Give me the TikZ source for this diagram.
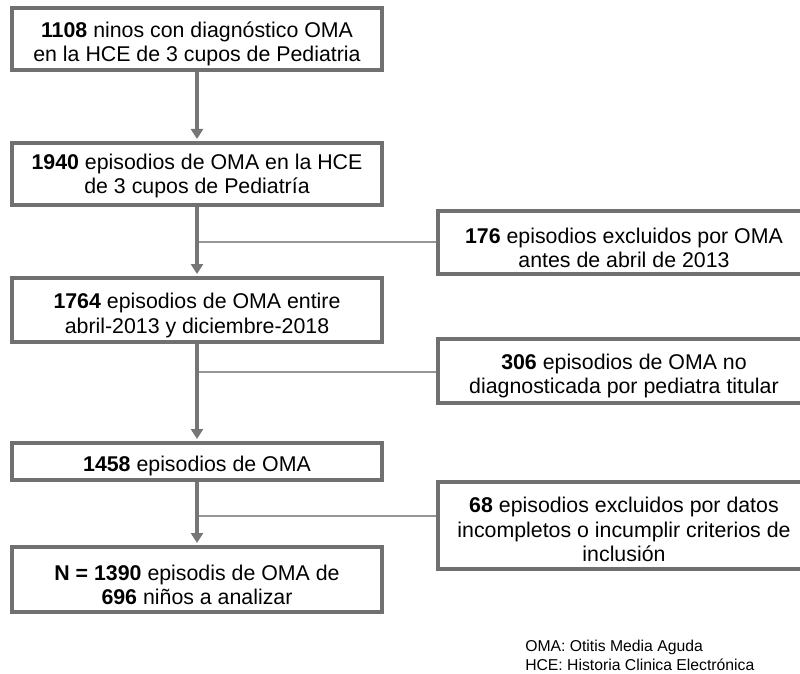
\documentclass[tikz,border=0pt]{standalone}
\usepackage{fontspec}
\setmainfont{Liberation Sans}
\usetikzlibrary{arrows.meta}
\definecolor{boxgray}{RGB}{112,112,112}
\definecolor{arrgray}{RGB}{118,118,118}
\definecolor{thingray}{RGB}{150,150,150}
\tikzset{
  flowbox/.style={draw=boxgray, line width=3pt, fill=white, inner sep=0pt},
  boxtext/.style={align=center, inner sep=0pt, text=black,
    font=\fontsize{16pt}{18.5pt}\selectfont},
  mainarrow/.style={draw=arrgray, line width=3pt,
    -{Triangle[length=7.5pt,width=9pt]}, shorten >=1.5pt},
  branch/.style={draw=thingray, line width=1.1pt},
  legend/.style={align=left, inner sep=0pt, anchor=north west,
    font=\fontsize{11.8pt}{14.25pt}\selectfont}
}
\begin{document}
\begin{tikzpicture}[x=0.75pt,y=-0.75pt]
\useasboundingbox (0,0) rectangle (800,674);
\clip (0,0) rectangle (800,674);
% main column
\node[flowbox, minimum width=277.5pt, minimum height=46.5pt,
  label={[boxtext,yshift=-3.75pt]center:{\textbf{1108} ninos con diagnóstico OMA\\en la HCE de 3 cupos de Pediatria}}] (b1) at (197,39) {};
\node[flowbox, minimum width=277.5pt, minimum height=46.5pt,
  label={[boxtext,yshift=-1.5pt]center:{\textbf{1940} episodios de OMA en la HCE\\de 3 cupos de Pediatría}}] (b2) at (197,174) {};
\node[flowbox, minimum width=277.5pt, minimum height=48pt,
  label={[boxtext,yshift=-4pt]center:{\textbf{1764} episodios de OMA entire\\abril-2013 y diciembre-2018}}] (b3) at (197,310) {};
\node[flowbox, minimum width=277.5pt, minimum height=27.75pt,
  label={[boxtext,yshift=-3.5pt]center:{\textbf{1458} episodios de OMA}}] (b4) at (197,461.5) {};
\node[flowbox, minimum width=277.5pt, minimum height=48.75pt,
  label={[boxtext,yshift=-4pt]center:{\textbf{N = 1390} episodis de OMA de\\\textbf{696} niños a analizar}}] (b5) at (197,579.5) {};
% exclusion boxes
\node[flowbox, minimum width=279pt, minimum height=47.25pt,
  label={[boxtext,yshift=-4pt]center:{\textbf{176} episodios excluidos por OMA\\antes de abril de 2013}}] (r1) at (624,242.5) {};
\node[flowbox, minimum width=279pt, minimum height=48pt,
  label={[boxtext,yshift=-3.75pt]center:{\textbf{306} episodios de OMA no\\diagnosticada por pediatra titular}}] (r2) at (624,371) {};
\node[flowbox, minimum width=279pt, minimum height=65.25pt,
  label={[boxtext,yshift=-3pt]center:{\textbf{68} episodios excluidos por datos\\incompletos o incumplir criterios de\\inclusión}}] (r3) at (624,525.5) {};
% branch points
\coordinate (j1) at (197,242);
\coordinate (j2) at (197,372);
\coordinate (j3) at (197,516);
% arrows
\draw[mainarrow] (b1.south) -- (b2.north);
\draw[branch] (j1) -- (r1.west |- j1);
\draw[mainarrow] (b2.south) -- (b3.north);
\draw[branch] (j2) -- (r2.west |- j2);
\draw[mainarrow] (b3.south) -- (b4.north);
\draw[branch] (j3) -- (r3.west |- j3);
\draw[mainarrow] (b4.south) -- (b5.north);
% legend
\node[legend] (leg) at (525,640)
  {OMA: Otitis Media Aguda\\HCE: Historia Clinica Electrónica};
\end{tikzpicture}
\end{document}
